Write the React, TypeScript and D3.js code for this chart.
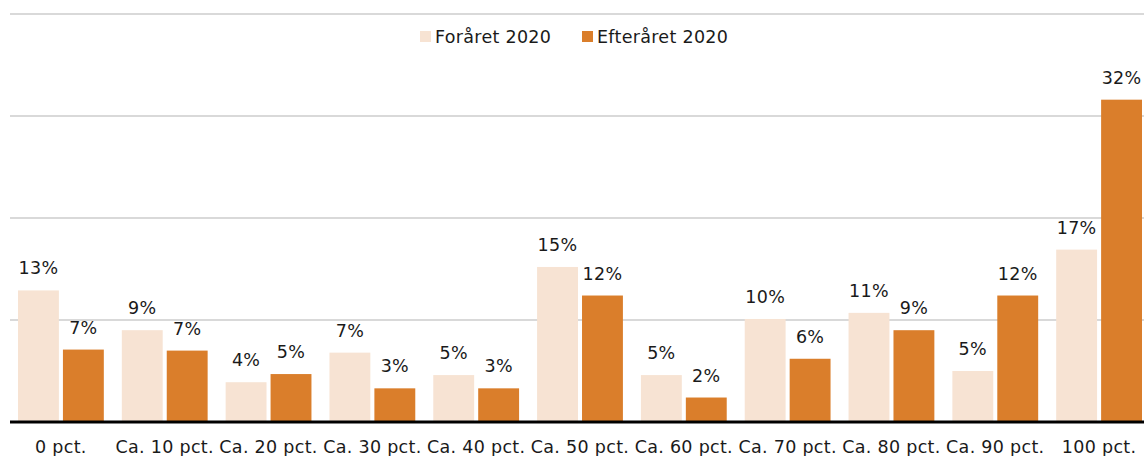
import React from "react";
import * as d3 from "d3";

const categories = [
	"0 pct.", "Ca. 10 pct.", "Ca. 20 pct.", "Ca. 30 pct.", "Ca. 40 pct.", "Ca. 50 pct.",
	"Ca. 60 pct.", "Ca. 70 pct.", "Ca. 80 pct.", "Ca. 90 pct.", "100 pct.",
];
const seriesNames = ["Foråret 2020", "Efteråret 2020"];
const spring2020 = [12.9, 9.0, 3.9, 6.8, 4.6, 15.2, 4.6, 10.1, 10.7, 5.0, 16.9];
const autumn2020 = [7.1, 7.0, 4.7, 3.3, 3.3, 12.4, 2.4, 6.2, 9.0, 12.4, 31.6];
const gridTicks = [0, 10, 20, 30, 40];

const COLORS = ["#F7E3D3", "#DA7E2B"];
const FONT = "'DejaVu Sans', Verdana, sans-serif";
const FS = 17.5;
const LS = 0.3;

const W = 1144;
const H = 456;
const margin = {top: 14, left: 9, right: -7, bottom: 34};

const App: React.FC = () => {
	const x = d3
		.scaleBand<string>()
		.domain(categories)
		.range([margin.left, W - margin.right])
		.paddingInner(0)
		.paddingOuter(0);
	const inner = d3
		.scaleBand<string>()
		.domain(seriesNames)
		.range([9, x.bandwidth() - 9])
		.paddingInner(0.09);
	const y = d3.scaleLinear().domain([0, 40]).range([H - margin.bottom, margin.top]);

	const series = [spring2020, autumn2020];

	return (
		<svg
			width={W}
			height={H}
			style={{position: "absolute", left: 0, top: 0, fontFamily: FONT, overflow: "hidden"}}
		>
			{/* grid */}
			{gridTicks.slice(1).map((t) => (
				<line key={t} x1={10} x2={W} y1={y(t)} y2={y(t)} stroke="#D9D9D9" strokeWidth={2} />
			))}

			{/* bars */}
			{categories.map((c, i) => (
				<g key={c} transform={`translate(${x(c)},0)`}>
					{series.map((s, j) => {
						const bx = inner(seriesNames[j]) || 0;
						const bw = inner.bandwidth();
						return (
							<g key={j}>
								<rect x={bx} y={y(s[i])} width={bw} height={y(0) - y(s[i])} fill={COLORS[j]} />
								<text
									x={bx + bw / 2}
									y={y(s[i]) - 16}
									textAnchor="middle"
									fontSize={FS}
									letterSpacing={LS}
									fill="#1a1a1a"
								>
									{Math.round(s[i])}%
								</text>
							</g>
						);
					})}
					<text
						x={x.bandwidth() / 2}
						y={H - 3}
						textAnchor="middle"
						fontSize={FS}
						letterSpacing={LS}
						fill="#1a1a1a"
					>
						{c}
					</text>
				</g>
			))}

			{/* baseline */}
			<line x1={10} x2={W} y1={y(0)} y2={y(0)} stroke="#000" strokeWidth={3} />

			{/* legend */}
			{seriesNames.map((n, j) => {
				const lx = j === 0 ? 420 : 582;
				return (
					<g key={n} transform={`translate(${lx},31)`}>
						<rect width={11} height={11} fill={COLORS[j]} />
						<text x={15} y={12} fontSize={FS} letterSpacing={LS} fill="#1a1a1a">
							{n}
						</text>
					</g>
				);
			})}
		</svg>
	);
};

export default App;
